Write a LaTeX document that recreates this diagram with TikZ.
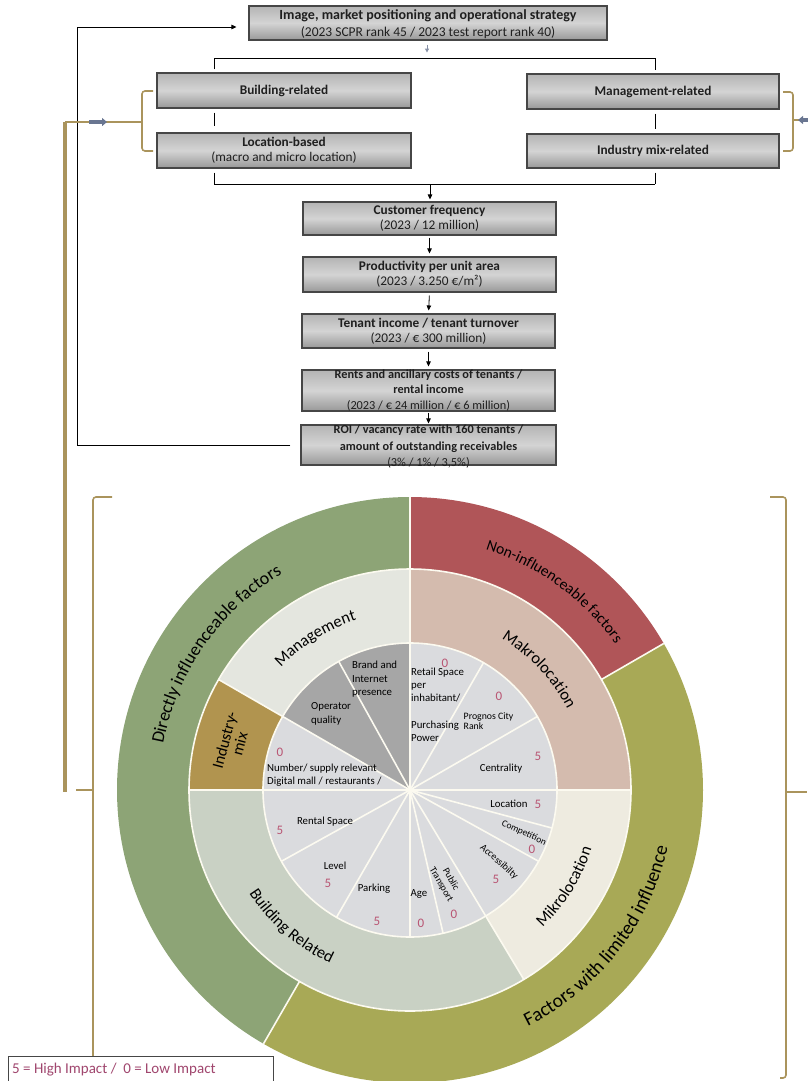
\documentclass[tikz,border=0pt]{standalone}
\usepackage{fontspec}
\setmainfont{Carlito}
\usetikzlibrary{arrows.meta,decorations.text,shadings}

\definecolor{cDir}{RGB}{141,164,118}
\definecolor{cNon}{RGB}{176,85,88}
\definecolor{cLim}{RGB}{168,169,86}
\definecolor{cMan}{RGB}{228,230,223}
\definecolor{cInd}{RGB}{177,148,79}
\definecolor{cBld}{RGB}{201,209,196}
\definecolor{cMik}{RGB}{238,235,224}
\definecolor{cMak}{RGB}{212,187,174}
\definecolor{cLt}{RGB}{218,219,222}
\definecolor{cDk}{RGB}{166,166,166}
\definecolor{cNum}{RGB}{185,85,115}
\definecolor{cGold}{RGB}{170,148,92}
\definecolor{cBlue}{RGB}{105,118,145}
\definecolor{cBoxT}{RGB}{180,180,180}
\definecolor{cBoxM}{RGB}{212,212,212}
\definecolor{cBoxB}{RGB}{152,152,152}
\definecolor{cBorder}{RGB}{70,70,70}
\definecolor{cLeg}{RGB}{160,70,110}
\definecolor{cSep}{RGB}{252,250,240}

\newcommand{\dirfont}{\fontsize{18}{18}\selectfont}
\newcommand{\nonfont}{\fontsize{15.5}{15.5}\selectfont}
\newcommand{\limfont}{\fontsize{19.5}{19.5}\selectfont}
\newcommand{\midfont}{\fontsize{16.5}{16.5}\selectfont}
\newcommand{\annsec}[5]{\fill[#1] (#2:#4pt) arc[start angle=#2, end angle=#3, radius=#4pt] -- (#3:#5pt) arc[start angle=#3, end angle=#2, radius=#5pt] -- cycle;}

\tikzset{
 fbox/.style={draw=cBorder, line width=1.1pt, top color=cBoxT, bottom color=cBoxB, middle color=cBoxM, inner sep=0pt},
 ftext/.style={align=center, font=\fontsize{13.3}{15}\selectfont, text=black!88, inner sep=0pt},
 conn/.style={draw=black, line width=0.8pt},
 arr/.style={conn, -{Triangle[width=4.5pt,length=5pt]}},
 goldline/.style={draw=cGold, line width=1.6pt, rounded corners=3pt},
 goldthick/.style={draw=cGold, line width=4pt},
 bluearr/.style={draw=cBlue, line width=4pt, -{Triangle[width=8pt,length=5pt]}},
 sep/.style={draw=cSep, line width=1.6pt},
 pietext/.style={font=\fontsize{10.8}{13}\selectfont, inner sep=0pt, text=black},
 num/.style={font=\fontsize{13}{13}\selectfont, text=cNum, inner sep=0pt},
 ringtext/.style={decorate, decoration={text along path, text align=center, text={#1}}},
}

\begin{document}
\begin{tikzpicture}[x=1pt,y=-1pt]
\useasboundingbox (0,0) rectangle (808,1081);

% ---------- flowchart boxes ----------
\node[fbox, minimum width=358pt, minimum height=34pt] (b1) at (428,23) {};
\node[ftext, font=\fontsize{13.5}{16.5}\selectfont] at (428,24) {{\bfseries\fontsize{14}{16.5}\selectfont Image, market positioning and operational strategy}\\(2023 SCPR rank 45 / 2023 test report rank 40)};
\node[fbox, minimum width=254pt, minimum height=35pt] (bld) at (284,90.5) {};
\node[ftext] at (bld) {\bfseries Building-related};
\node[fbox, minimum width=252pt, minimum height=35pt] (mgt) at (653,91.5) {};
\node[ftext] at (mgt) {\bfseries Management-related};
\node[fbox, minimum width=254pt, minimum height=35pt] (loc) at (284,150.5) {};
\node[ftext] at (loc) {\bfseries Location-based\\(macro and micro location)};
\node[fbox, minimum width=252pt, minimum height=34pt] (ind) at (653,151) {};
\node[ftext] at (ind) {\bfseries Industry mix-related};
\node[fbox, minimum width=253pt, minimum height=33pt] (cust) at (429.5,218.5) {};
\node[ftext] at (cust) {\bfseries Customer frequency\\(2023 / 12 million)};
\node[fbox, minimum width=253pt, minimum height=35pt] (prod) at (429.5,274.5) {};
\node[ftext] at (prod) {\bfseries Productivity per unit area\\(2023 / 3.250 €/m²)};
\node[fbox, minimum width=253pt, minimum height=34pt] (ten) at (428.5,331) {};
\node[ftext] at (ten) {\bfseries Tenant income / tenant turnover\\(2023 / € 300 million)};
\node[fbox, minimum width=253pt, minimum height=41pt] (rent) at (428.5,390.5) {};
\node[ftext, font=\fontsize{12.3}{15.5}\selectfont] at (rent) {\bfseries Rents and ancillary costs of tenants /\\\bfseries rental income\\(2023 / € 24 million / € 6 million)};
\node[fbox, minimum width=255pt, minimum height=40pt] (roi) at (428.5,445) {};
\node[ftext, font=\fontsize{12.3}{16.5}\selectfont] at (428.5,447) {\bfseries ROI / vacancy rate with 160 tenants /\\\bfseries amount of outstanding receivables\\(3\% / 1\% / 3,5\%)};

% ---------- connectors ----------
\coordinate (t1) at (214,58);
\coordinate (t2) at (655,58);
\coordinate (j1) at (214,184);
\coordinate (j2) at (655,184);
\draw[draw=cBlue!80, line width=1pt, -{Triangle[width=4pt,length=4pt]}, shorten <=4pt] ([xshift=-1pt]b1.south) -- ++(0,12);
\draw[conn, shorten <=3pt, shorten >=3pt] (t1 |- bld.north) -- (t1) -- (t2) -- (t2 |- mgt.north);
\draw[conn, shorten <=4pt, shorten >=6pt] (t1 |- bld.south) -- (t1 |- loc.north);
\draw[conn, shorten <=4pt, shorten >=4pt] (t2 |- mgt.south) -- (t2 |- ind.north);
\draw[conn, shorten <=4pt] (t1 |- loc.south) -- (j1) -- (j2);
\draw[conn, shorten <=4pt] (t2 |- ind.south) -- (j2);
\draw[arr, shorten >=2pt] (j1 -| 430,0) -- (cust.north -| 430,0);
\draw[arr, shorten <=2pt, shorten >=3pt] (cust.south) -- (prod.north);
\draw[arr, shorten <=3pt, shorten >=3pt] (prod.south) -- (ten.north);
\draw[arr, shorten <=3pt, shorten >=3pt] (ten.south) -- (rent.north);
\draw[arr, shorten <=1pt, shorten >=1pt] (rent.south) -- (roi.north);
\coordinate (fbA) at (77,445);
\coordinate (fbB) at (77,27);
\draw[arr, shorten <=10pt, shorten >=12pt] (roi.west) -- (fbA) -- (fbB) -- (fbB -| b1.west);

% ---------- braces and gold lines ----------
\coordinate (gTop) at (65,122);
\coordinate (gBot) at (65,792);
\draw[goldthick] (gTop) -- (gBot);
\draw[goldline] (153,91) -- (142,91) -- (142,151) -- (153,151);
\draw[goldline] (gTop) -- (142,122);
\draw[bluearr] (89,122) -- (107,122);
\draw[goldline] (783,92) -- (793,92) -- (793,151) -- (783,151);
\draw[goldline] (793,120) -- (799,120);
\draw[bluearr] (814,120) -- (798,120);
% big left brace
\draw[goldline] (112,497) -- (93,497) -- (93,1057);
\draw[goldline] (76,790) -- (93,790);
% big right brace
\draw[goldline] (770,497) -- (786,497) -- (786,1078) -- (780,1078);
\draw[goldline] (786,792) -- (807,792);

% ---------- wheel ----------
\begin{scope}[shift={(410,790)}]
\annsec{cDir}{90}{240}{293}{221}
\annsec{cNon}{30}{90}{293}{221}
\annsec{cLim}{240}{390}{293}{221}
\annsec{cMan}{90}{150}{221}{147}
\annsec{cInd}{150}{180}{221}{147}
\annsec{cBld}{180}{301}{221}{147}
\annsec{cMik}{301}{360}{221}{147}
\annsec{cMak}{0}{90}{221}{147}
\fill[cLt] (0,0) circle[radius=147pt];
\fill[cDk] (0,0) -- (90:147pt) arc[start angle=90, end angle=150, radius=147pt] -- cycle;
\foreach \a in {90,60,30,0,-15,-29,-59,-77,-90,-120,-151,180,150,119}
  \draw[sep] (0,0) -- (\a:147pt);
\foreach \a in {90,150,180,-59,0}
  \draw[sep] (\a:147pt) -- (\a:221pt);
\foreach \a in {90,30,240}
  \draw[sep] (\a:221pt) -- (\a:293pt);
\draw[sep] (0,0) circle[radius=147pt];
\draw[sep] (0,0) circle[radius=221pt];
% ring labels
\path[ringtext={|\dirfont|Directly influenceable factors}] (195:251pt) arc[start angle=195, end angle=95, radius=251pt];
\path[ringtext={|\nonfont|Non-influenceable factors}] (84:252pt) arc[start angle=84, end angle=24, radius=252pt];
\path[ringtext={|\limfont|Factors with limited influence}] (-88:264pt) arc[start angle=-88, end angle=12, radius=264pt];
\path[ringtext={|\midfont|Management}] (150:178pt) arc[start angle=150, end angle=94, radius=178pt];
\path[ringtext={|\midfont|Makrolocation}] (75:177pt) arc[start angle=75, end angle=11, radius=177pt];
\path[ringtext={|\midfont|Mikrolocation}] (-62:191pt) arc[start angle=-62, end angle=-2, radius=191pt];
\path[ringtext={|\midfont|Building Related}] (199:191pt) arc[start angle=199, end angle=259, radius=191pt];
\end{scope}
\node[align=center, rotate=75, font=\fontsize{16}{15.5}\selectfont, inner sep=0pt] (indmix) at (232,742) {Industry-\\mix};

% inner labels
\node[pietext, anchor=north west, align=left, font=\fontsize{10.8}{13.5}\selectfont] (brand) at (352,661) {Brand and\\Internet\\presence};
\node[pietext, anchor=north west, align=left, font=\fontsize{10.8}{14}\selectfont] (oper) at (311,702) {Operator\\quality};
\node[pietext, anchor=north west, align=left] (retail) at (411,668) {Retail Space\\per\\inhabitant/};
\node[pietext, anchor=north west, align=left] (purch) at (411,721) {Purchasing\\Power};
\node[pietext, anchor=north west, align=left, font=\fontsize{9.8}{10.5}\selectfont] (prognos) at (463.5,712.5) {Prognos City\\Rank};
\node[pietext] (centr) at (501,769) {Centrality};
\node[pietext, anchor=north west, align=left] (numb) at (267,764) {Number/ supply relevant\\Digital mall / restaurants /};
\node[pietext] (locat) at (509,804) {Location};
\node[pietext] (rental) at (325,822) {Rental Space};
\node[pietext] (level) at (335,866) {Level};
\node[pietext] (park) at (374,889) {Parking};
\node[pietext] (age) at (419,894) {Age};
\node[pietext, align=center, rotate=-60, font=\fontsize{9.8}{11}\selectfont] (pubtr) at (446,882) {Public\\Transport};
\node[pietext, rotate=-42, font=\fontsize{10}{10}\selectfont] (access) at (499,862) {Accessibilty};
\node[pietext, rotate=-25, font=\fontsize{9.5}{10}\selectfont] (compet) at (524,833) {Competition};
% impact numbers
\node[num] (n1) at (445,663) {0};
\node[num] (n2) at (499,696) {0};
\node[num] (n3) at (538,756) {5};
\node[num] (n4) at (280,752) {0};
\node[num] (n5) at (538,804) {5};
\node[num] (n6) at (280,830) {5};
\node[num] (n7) at (328,883) {5};
\node[num] (n8) at (377,921) {5};
\node[num] (n9) at (421,923) {0};
\node[num] (n10) at (454,914) {0};
\node[num] (n11) at (496,879) {5};
\node[num] (n12) at (532,849) {0};

% legend
\node[draw=cBorder, line width=1.2pt, anchor=north west, minimum width=265pt, minimum height=30pt, inner sep=0pt, fill=white] (legend) at (8,1056) {};
\node[anchor=west, font=\fontsize{15}{16}\selectfont, text=cLeg, inner sep=0pt] (legtext) at (12,1070) {5 = High Impact /\ \ 0 = Low Impact};
\end{tikzpicture}
\end{document}
